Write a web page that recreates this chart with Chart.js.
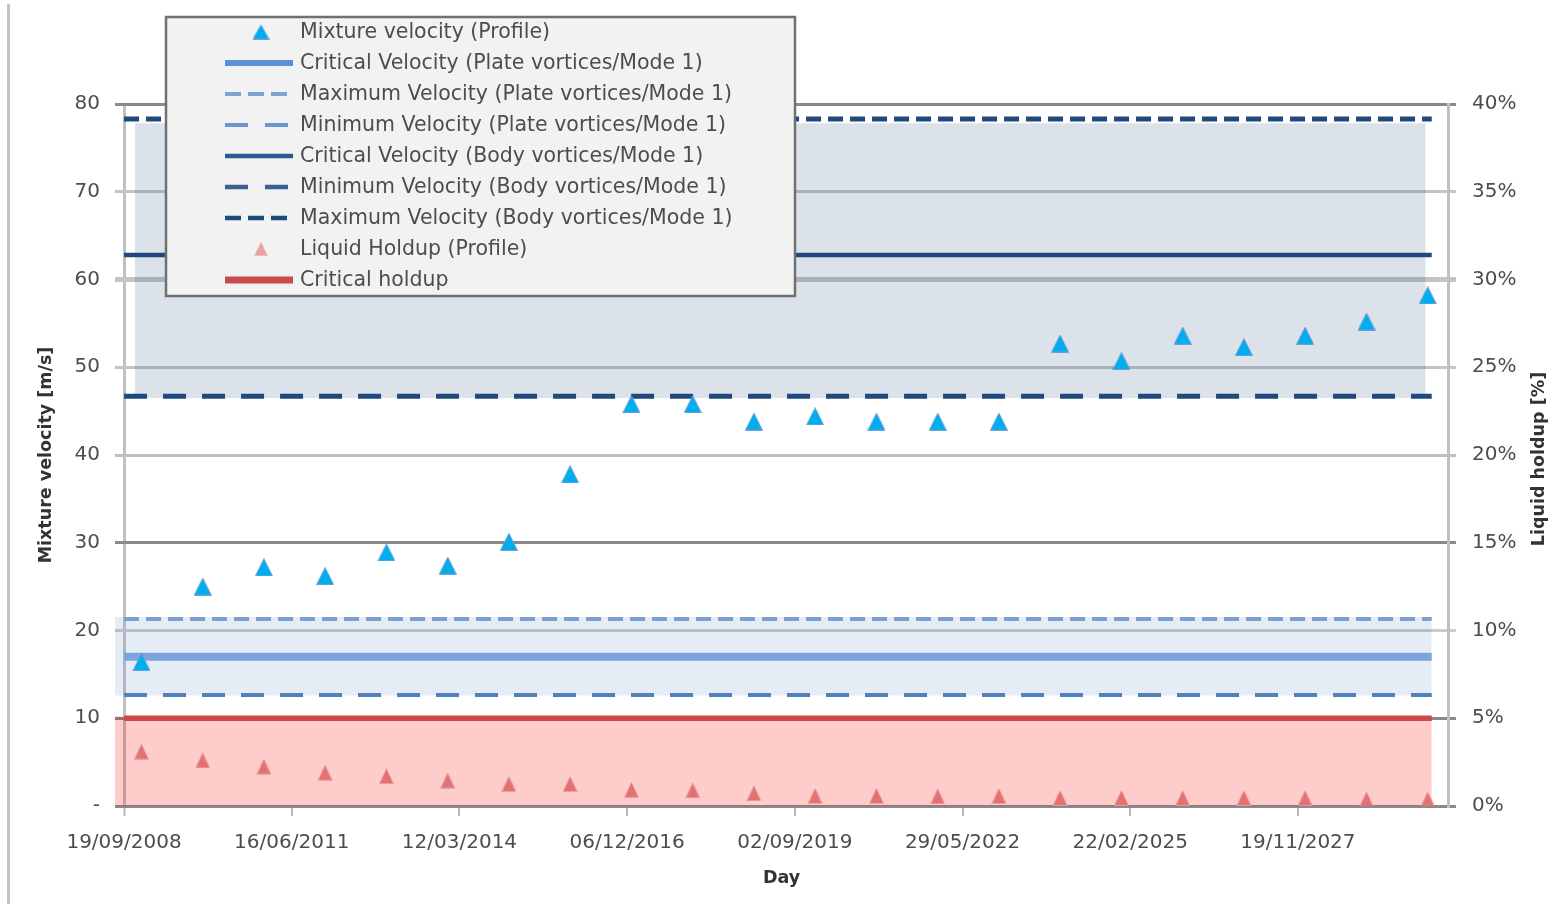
<!DOCTYPE html>
<html>
<head>
<meta charset="utf-8">
<script src="https://cdn.jsdelivr.net/npm/chart.js@4.4.1/dist/chart.umd.min.js"></script>
<style>
  html, body { margin: 0; padding: 0; background: #ffffff; }
  canvas { display: block; }
</style>
</head>
<body>
<canvas id="chart" width="1552" height="904"></canvas>
<script>
// ---- data ----------------------------------------------------------------
const axisOrigin = '2008-09-19';          // first date tick; x values are days from here
const axisRange = ['2008-07-27', '2030-05-02'];
const tickStepDays = 1000;
const tickCount = 8;

const sampleDates = [
  '2009-01-01', '2010-01-01', '2011-01-01', '2012-01-01', '2013-01-01', '2014-01-01',
  '2015-01-01', '2016-01-01', '2017-01-01', '2018-01-01', '2019-01-01', '2020-01-01',
  '2021-01-01', '2022-01-01', '2023-01-01', '2024-01-01', '2025-01-01', '2026-01-01',
  '2027-01-01', '2028-01-01', '2029-01-01', '2030-01-01'
];
// m/s
const mixtureVelocity = [
  16.4, 25.0, 27.2, 26.2, 28.9, 27.4, 30.1, 37.8, 45.8, 45.8, 43.8,
  44.4, 43.8, 43.8, 43.8, 52.7, 50.7, 53.6, 52.3, 53.6, 55.2, 58.2
];
// %
const liquidHoldup = [
  3.1, 2.6, 2.25, 1.9, 1.7, 1.45, 1.26, 1.26, 0.92, 0.9, 0.73,
  0.58, 0.58, 0.55, 0.57, 0.46, 0.46, 0.46, 0.46, 0.46, 0.38, 0.38
];

// threshold levels, m/s  [minimum, critical, maximum]
const plateVortexVelocity = [12.65, 17.0, 21.3];
const bodyVortexVelocity = [46.7, 62.8, 78.3];
const criticalHoldup = 5;                 // %

// shaded envelopes [low, high]
const plateEnvelope = [12.6, 21.55];
const bodyEnvelope = [46.5, 77.8];
const holdupEnvelope = [0, 5.1];

// date extents of the threshold lines and envelopes
const levelSpan = ['2008-09-19', '2030-01-25'];
const lowEnvelopeSpan = ['2008-07-27', '2030-01-25'];
const bodyEnvelopeSpan = ['2008-11-22', '2029-12-20'];

// ---- helpers -------------------------------------------------------------
const DAY_MS = 86400000;
const originMs = Date.parse(axisOrigin);
const toDay = s => Math.round((Date.parse(s) - originMs) / DAY_MS);
const pad2 = n => String(n).padStart(2, '0');
const formatDay = d => {
  const t = new Date(originMs + d * DAY_MS);
  return pad2(t.getUTCDate()) + '/' + pad2(t.getUTCMonth() + 1) + '/' + t.getUTCFullYear();
};
const dateTicks = Array.from({ length: tickCount }, (_, i) => i * tickStepDays);

function triangleSprite(w, h, fill, edge) {
  const c = document.createElement('canvas');
  c.width = w; c.height = h;
  const g = c.getContext('2d');
  g.beginPath();
  g.moveTo(w / 2, 0.5);
  g.lineTo(w - 0.5, h - 0.5);
  g.lineTo(0.5, h - 0.5);
  g.closePath();
  g.fillStyle = fill;
  g.fill();
  g.strokeStyle = edge;
  g.lineWidth = 1;
  g.stroke();
  return c;
}

const blueMarker = triangleSprite(18, 18, '#00aeef', 'rgba(110,150,205,0.85)');
const redMarker = triangleSprite(15, 16, '#e27272', 'rgba(236,160,160,0.85)');
const blueKey = triangleSprite(17, 15, '#00aeef', 'rgba(110,150,205,0.85)');
const redKey = triangleSprite(14, 14, '#e4a2a2', 'rgba(240,190,190,0.9)');

function levelLine(key, label, value, axis, color, width, dash, legendStyle) {
  return {
    type: 'line', key, label, yAxisID: axis,
    data: levelSpan.map(d => ({ x: toDay(d), y: value })),
    borderColor: color, borderWidth: width, borderDash: dash, borderCapStyle: 'butt',
    pointRadius: 0, fill: false, order: 5, legendStyle
  };
}

function envelope(range, span, axis, color) {
  return {
    type: 'line', label: '', yAxisID: axis,
    data: span.map(d => ({ x: toDay(d), y: range[1] })),
    fill: { value: range[0] }, backgroundColor: color,
    borderWidth: 0, borderColor: 'rgba(0,0,0,0)', pointRadius: 0, order: 10
  };
}

// horizontal grid styling by velocity value
const darkGrid = '#8a8a8a';
const gridColorFor = v => ({ 0: darkGrid, 10: darkGrid, 20: '#cbcbcb', 30: darkGrid, 40: '#c0c0c0',
  50: '#c4c4c4', 60: '#c4c4c4', 70: '#c4c4c4', 80: darkGrid })[Math.round(v)] || '#c0c0c0';
const gridWidthFor = v => Math.round(v) === 60 ? 5 : 3;

// ---- datasets ------------------------------------------------------------
const datasets = [
  {
    type: 'line', key: 'mix', label: 'Mixture velocity (Profile)', yAxisID: 'y',
    data: sampleDates.map((d, i) => ({ x: toDay(d), y: mixtureVelocity[i] })),
    showLine: false, pointStyle: blueMarker, pointRadius: 9, order: 1,
    legendStyle: { sprite: blueKey }
  },
  {
    type: 'line', key: 'holdup', label: 'Liquid Holdup (Profile)', yAxisID: 'y2',
    data: sampleDates.map((d, i) => ({ x: toDay(d), y: liquidHoldup[i] })),
    showLine: false, pointStyle: redMarker, pointRadius: 8, order: 2,
    legendStyle: { sprite: redKey }
  },
  levelLine('plateCrit', 'Critical Velocity (Plate vortices/Mode 1)', plateVortexVelocity[1], 'y',
    '#7ba6da', 8, [], { color: '#5b8fd6', width: 6, dash: [] }),
  levelLine('plateMax', 'Maximum Velocity (Plate vortices/Mode 1)', plateVortexVelocity[2], 'y',
    '#7a9fd1', 4, [15, 7], { color: '#7fa3d3', width: 4, dash: [16, 7] }),
  levelLine('plateMin', 'Minimum Velocity (Plate vortices/Mode 1)', plateVortexVelocity[0], 'y',
    '#4f81bd', 4, [23, 16], { color: '#6a95cc', width: 4, dash: [23, 17] }),
  levelLine('bodyCrit', 'Critical Velocity (Body vortices/Mode 1)', bodyVortexVelocity[1], 'y',
    '#1f497d', 4.5, [], { color: '#2c5890', width: 4.5, dash: [] }),
  levelLine('bodyMin', 'Minimum Velocity (Body vortices/Mode 1)', bodyVortexVelocity[0], 'y',
    '#1f497d', 5, [23, 16], { color: '#3a5f92', width: 4.5, dash: [23, 17] }),
  levelLine('bodyMax', 'Maximum Velocity (Body vortices/Mode 1)', bodyVortexVelocity[2], 'y',
    '#1f497d', 5, [15, 7], { color: '#1f497d', width: 4.5, dash: [16, 7] }),
  levelLine('holdupCrit', 'Critical holdup', criticalHoldup, 'y2',
    '#cf4848', 5.5, [], { color: '#c84c4c', width: 7, dash: [] }),
  envelope(bodyEnvelope, bodyEnvelopeSpan, 'y', 'rgba(31,73,125,0.16)'),
  envelope(plateEnvelope, lowEnvelopeSpan, 'y', 'rgba(79,129,189,0.15)'),
  envelope(holdupEnvelope, lowEnvelopeSpan, 'y2', 'rgba(255,0,0,0.2)')
];

const legendRows = ['mix', 'plateCrit', 'plateMax', 'plateMin', 'bodyCrit', 'bodyMin', 'bodyMax', 'holdup', 'holdupCrit'];

// ---- plugins -------------------------------------------------------------
const outerFrame = {
  id: 'outerFrame',
  beforeDraw(chart) {
    const ctx = chart.ctx;
    ctx.save();
    ctx.fillStyle = '#c4c4c4';
    ctx.fillRect(7, 4, 3, chart.height - 4);
    ctx.restore();
  }
};

const legendPanel = {
  id: 'legendPanel',
  afterDraw(chart) {
    const ctx = chart.ctx;
    const box = { x: 166, y: 17, w: 629, h: 279 };
    ctx.save();
    ctx.fillStyle = '#f2f2f2';
    ctx.fillRect(box.x, box.y, box.w, box.h);
    ctx.strokeStyle = '#707070';
    ctx.lineWidth = 2.5;
    ctx.strokeRect(box.x, box.y, box.w, box.h);
    ctx.font = "20.5px 'DejaVu Sans'";
    ctx.textBaseline = 'middle';
    ctx.textAlign = 'left';
    legendRows.forEach((key, i) => {
      const ds = chart.data.datasets.find(d => d.key === key);
      const y = 32 + i * 31;
      const s = ds.legendStyle;
      if (s.sprite) {
        ctx.drawImage(s.sprite, 261 - s.sprite.width / 2, y - s.sprite.height / 2);
      } else {
        ctx.beginPath();
        ctx.setLineDash(s.dash);
        ctx.strokeStyle = s.color;
        ctx.lineWidth = s.width;
        ctx.moveTo(225, y);
        ctx.lineTo(293, y);
        ctx.stroke();
        ctx.setLineDash([]);
      }
      ctx.fillStyle = '#4d4d4d';
      ctx.fillText(ds.label, 300, y + 1);
    });
    ctx.restore();
  }
};

const rightAxisTitle = {
  id: 'rightAxisTitle',
  afterDraw(chart) {
    const ctx = chart.ctx;
    const area = chart.chartArea;
    ctx.save();
    ctx.translate(1539, (area.top + area.bottom) / 2 + 4);
    ctx.rotate(-Math.PI / 2);
    ctx.font = "bold 17.5px 'DejaVu Sans'";
    ctx.fillStyle = '#333333';
    ctx.textAlign = 'center';
    ctx.textBaseline = 'middle';
    ctx.fillText('Liquid holdup [%]', 0, 0);
    ctx.restore();
  }
};

// ---- chart ---------------------------------------------------------------
Chart.defaults.font.family = "'DejaVu Sans', sans-serif";
Chart.defaults.color = '#4d4d4d';

new Chart(document.getElementById('chart'), {
  type: 'line',
  data: { datasets },
  options: {
    responsive: false,
    animation: false,
    events: [],
    devicePixelRatio: 1,
    layout: { padding: { top: 104, left: 0, right: 0, bottom: 0 } },
    plugins: { legend: { display: false }, tooltip: { enabled: false } },
    scales: {
      x: {
        type: 'linear',
        min: toDay(axisRange[0]),
        max: toDay(axisRange[1]),
        afterBuildTicks: s => { s.ticks = dateTicks.map(v => ({ value: v })); },
        ticks: {
          autoSkip: false, maxRotation: 0, minRotation: 0, padding: 15,
          color: '#4d4d4d', font: { size: 20 },
          callback: v => formatDay(v)
        },
        grid: {
          drawOnChartArea: true, drawTicks: true, tickLength: 10,
          color: c => (c.tick && c.tick.value === 0) ? '#c0c0c0' : 'rgba(0,0,0,0)',
          lineWidth: c => (c.tick && c.tick.value === 0) ? 3 : 0,
          tickColor: '#b8b8b8', tickWidth: 2
        },
        border: { display: false },
        title: {
          display: true, text: 'Day', color: '#333333',
          font: { size: 17.5, weight: 'bold' }, padding: { top: 0, bottom: 15.5 }
        },
        afterFit: s => { s.height = 98; }
      },
      y: {
        position: 'left', min: 0, max: 80,
        ticks: {
          stepSize: 10, padding: 15, color: '#4d4d4d', font: { size: 20 },
          callback: v => v === 0 ? '-' : v
        },
        grid: {
          drawTicks: false,
          color: c => gridColorFor(c.tick.value),
          lineWidth: c => gridWidthFor(c.tick.value)
        },
        border: { display: false },
        title: {
          display: true, text: 'Mixture velocity [m/s]', color: '#333333',
          font: { size: 17.5, weight: 'bold' }, padding: { top: 35.5, bottom: 0 }
        },
        afterFit: s => { s.width = 115; }
      },
      y2: {
        position: 'right', min: 0, max: 40,
        ticks: {
          stepSize: 5, padding: 16, color: '#4d4d4d', font: { size: 20 },
          callback: v => v + '%'
        },
        grid: {
          drawOnChartArea: false, drawTicks: true, tickLength: 8,
          color: c => gridColorFor(c.tick.value * 2),
          lineWidth: c => gridWidthFor(c.tick.value * 2)
        },
        border: { display: true, color: '#c0c0c0', width: 3 },
        afterFit: s => { s.width = 104; }
      }
    }
  },
  plugins: [outerFrame, legendPanel, rightAxisTitle]
});
</script>
</body>
</html>
